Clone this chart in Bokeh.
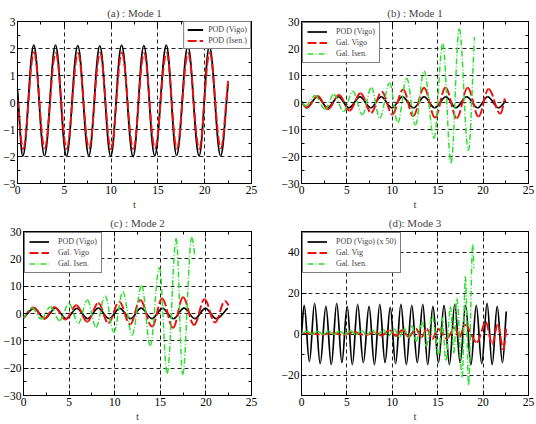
import numpy as np
from bokeh.plotting import figure
from bokeh.models import (ColumnDataSource, Legend, LegendItem, LinearAxis,
                          SingleIntervalTicker)
from bokeh.layouts import column, row
from bokeh.embed import file_html
from bokeh.resources import INLINE

# ---- time series, given by their turning points (start, extrema, end) ----
# Mode 1, POD (Vigo)
pod_vigo_m1_t = [0, 0.57, 1.74, 2.88, 4.06, 5.23, 6.44, 7.62, 8.79, 9.96, 11.12,
                 12.35, 13.5, 14.66, 15.9, 17.0, 18.2, 19.4, 20.5, 21.7, 22.5]
pod_vigo_m1_v = [0.45, -1.98, 2.12, -1.97, 2.12, -1.98, 2.11, -1.97, 2.1, -1.99, 2.12,
                 -2.0, 2.11, -1.97, 2.12, -1.96, 2.1, -1.98, 2.09, -1.98, 0.7]
# Mode 1, POD (Isen.)
pod_isen_m1_t = [0, 0.6, 1.76, 2.9, 4.08, 5.25, 6.46, 7.64, 8.81, 9.98, 11.14,
                 12.37, 13.52, 14.68, 15.92, 17.02, 18.22, 19.42, 20.52, 21.72, 22.5]
pod_isen_m1_v = [0.1, -1.72, 1.86, -1.7, 1.84, -1.72, 1.83, -1.7, 1.84, -1.73, 1.85,
                 -1.72, 1.83, -1.7, 1.84, -1.71, 1.83, -1.72, 1.85, -1.7, 0.8]
# Mode 1, Galerkin (Vigo)
gal_vigo_m1_t = [0, 0.58, 1.8, 2.9, 4.15, 5.28, 6.5, 7.67, 8.85, 10.0, 11.2,
                 12.3, 13.5, 14.7, 15.86, 17.1, 18.3, 19.5, 20.6, 21.9, 22.4]
gal_vigo_m1_v = [0, -1.8, 2.4, -2.5, 2.8, -3.0, 3.4, -3.8, 4.0, -4.4, 4.8,
                 -5.0, 5.5, -5.6, 5.6, -5.8, 5.5, -5.2, 5.0, -4.2, 1.5]
# Mode 1, Galerkin (Isen.)
gal_isen_m1_t = [0, 0.45, 1.5, 2.6, 3.56, 4.64, 5.65, 6.7, 7.7, 8.62, 9.7,
                 10.6, 11.58, 12.55, 13.5, 14.6, 15.56, 16.47, 17.37, 18.38, 19.05]
gal_isen_m1_v = [0.3, -1.3, 2.6, -2.5, 3.0, -3.3, 4.2, -4.5, 5.5, -5.8, 7.2,
                 -7.5, 9.0, -8.3, 11.7, -13.2, 21.8, -22.5, 27.3, -17.8, 24.3]

# Mode 2
pod_vigo_m2_t = [0, 1.15, 2.33, 3.5, 4.68, 5.85, 7.03, 8.2, 9.38, 10.55,
                 11.73, 12.9, 14.08, 15.25, 16.43, 17.6, 18.78, 19.95, 21.13, 22.4]
pod_vigo_m2_v = [-1.7, 1.9, -1.85, 1.95, -1.85, 1.9, -1.9, 1.95, -1.85, 1.9,
                 -1.9, 1.95, -1.85, 1.9, -1.9, 1.95, -1.85, 1.9, -1.9, 2.0]
gal_vigo_m2_t = [0, 1.1, 2.3, 3.4, 4.6, 5.8, 7.0, 8.2, 9.3, 10.5, 11.7,
                 12.8, 14.1, 15.2, 16.4, 17.5, 18.7, 19.85, 21.0, 22.1, 22.5]
gal_vigo_m2_v = [-1.6, 2.2, -1.9, 2.4, -2.2, 3.0, -3.0, 3.8, -3.5, 4.3, -4.0,
                 4.9, -4.8, 5.5, -5.2, 5.9, -4.2, 5.2, -3.3, 4.6, 3.0]
gal_isen_m2_t = [0, 0.95, 1.95, 2.95, 3.95, 5.0, 6.0, 7.0, 7.95, 8.95, 9.9,
                 10.9, 11.9, 12.95, 13.9, 14.9, 15.75, 16.75, 17.45, 18.45, 18.8]
gal_isen_m2_v = [-1.6, 2.0, -2.0, 2.5, -2.6, 3.6, -3.6, 4.9, -5.0, 6.4, -6.8,
                 7.9, -7.9, 10.2, -11.8, 16.8, -22.0, 27.4, -22.3, 27.8, 21.0]

# Mode 3 (POD scaled by 50)
pod_vigo_m3_t = [0, 0.3, 0.87, 1.44, 2.06, 2.69, 3.28, 3.88, 4.45, 5.03,
                 5.6, 6.18, 6.81, 7.44, 8.03, 8.62, 9.2, 9.77, 10.36, 10.95,
                 11.55, 12.14, 12.75, 13.36, 13.9, 14.47, 15.08, 15.7, 16.29, 16.88,
                 17.47, 18.07, 18.66, 19.25, 19.85, 20.44, 21.0, 21.55, 22.13, 22.55]
pod_vigo_m3_v = [0, 14, -13.5, 15, -14.5, 13.5, -15, 15, -14, 13.5,
                 -15, 14.5, -14, 13.5, -15, 14.5, -14, 13, -14.5, 14.5,
                 -15, 14, -14, 14.5, -15, 13.5, -14, 14, -15, 14.5,
                 -14, 14, -15, 14, -14.5, 15, -15, 13.5, -14, 11]
gal_vigo_m3_t = [0, 1.0, 2.2, 3.4, 4.6, 5.8, 7.0, 8.2, 8.8, 9.7, 10.4, 11.1,
                 11.8, 12.6, 13.2, 13.8, 14.4, 15.0, 16.0, 16.9, 17.4, 18.0,
                 19.3, 20.3, 21.0, 21.6, 22.25, 22.55]
gal_vigo_m3_v = [0, 0.4, -0.3, 0.5, -0.4, 0.8, -0.5, 1.0, -0.8, 1.8, -1.0, 2.0,
                 -1.5, 2.6, -1.6, 2.4, -2.5, 2.6, -2.2, 3.0, -1.5, 4.5,
                 -4.0, 5.7, -5.0, 4.5, -7.5, 3.0]
gal_isen_m3_t = [0, 0.6, 1.2, 1.8, 2.4, 3.0, 3.6, 4.2, 4.8, 5.4, 6.0, 6.6, 7.2,
                 7.8, 8.4, 9.0, 9.6, 10.2, 10.8, 11.3, 11.75, 12.2, 12.6, 13.3,
                 13.75, 14.4, 15.1, 15.5, 15.9, 16.4, 16.8, 17.1, 17.7, 18.05,
                 18.4, 18.86, 18.98]
gal_isen_m3_v = [0.3, 1.2, -0.1, 1.3, -0.2, 1.4, -0.2, 1.5, -0.3, 1.6, -0.3, 1.8, -0.5,
                 2.0, -0.6, 2.2, -1.0, 2.5, -1.5, 3.0, -2.0, 4.0, -3.5, 6.0,
                 -6.0, 8.6, -10.0, 8.0, -13.0, 13.5, -9.3, 17.5, -21.0, 28.0,
                 -24.7, 43.6, 32.0]

FONT = "Liberation Serif"
BLACK, RED, GREEN = "#000000", "#ee1111", "#2ee02e"
K = 0.3634  # cubic Bezier handle fraction for a half-wave between turning points


def wave_source(t, v):
    """Smooth path through turning points: horizontal tangents at extrema,
    chord tangents at the two free ends."""
    t = np.asarray(t, float)
    v = np.asarray(v, float)
    dt = np.diff(t)
    cy0 = v[:-1].copy()
    cy1 = v[1:].copy()
    cy0[0] = v[0] + K * (v[1] - v[0])
    cy1[-1] = v[-1] - K * (v[-1] - v[-2])
    return ColumnDataSource(dict(
        x0=t[:-1], y0=v[:-1], x1=t[1:], y1=v[1:],
        cx0=t[:-1] + K * dt, cy0=cy0, cx1=t[1:] - K * dt, cy1=cy1))


def draw(p, t, v, color, width, dash="solid"):
    return p.bezier(x0="x0", y0="y0", x1="x1", y1="y1", cx0="cx0", cy0="cy0",
                    cx1="cx1", cy1="cy1", source=wave_source(t, v),
                    line_color=color, line_width=width, line_dash=dash)


def style_axis(ax, show_labels=True):
    ax.axis_line_color = None
    ax.major_tick_in = 5
    ax.major_tick_out = 0
    ax.minor_tick_in = 3
    ax.minor_tick_out = 0
    ax.major_tick_line_color = "black"
    ax.minor_tick_line_color = "black"
    ax.major_label_text_font = FONT
    ax.major_label_text_font_size = "11.5px"
    if show_labels:
        ax.major_label_text_color = "black"
        ax.major_label_standoff = 2
    else:
        # tick marks only on the mirrored sides
        ax.major_label_text_color = None
        ax.major_label_standoff = 0


def make_panel(title, y_lo, y_hi, y_step, width, height, bl, br, bt, bb):
    p = figure(width=width, height=height, x_range=(0, 25), y_range=(y_lo, y_hi),
               output_backend="svg", toolbar_location=None,
               min_border_left=bl, min_border_right=br,
               min_border_top=bt, min_border_bottom=bb)
    p.title.text = title
    p.title.text_font = FONT
    p.title.text_font_size = "11px"
    p.title.text_font_style = "normal"
    p.title.align = "center"
    p.title.vertical_align = "top"
    p.title.standoff = 2
    p.outline_line_color = "black"
    p.outline_line_width = 1
    p.background_fill_color = "white"
    p.border_fill_color = "white"

    xt = SingleIntervalTicker(interval=5, num_minor_ticks=2)
    yt = SingleIntervalTicker(interval=y_step, num_minor_ticks=2)
    p.xaxis.ticker = xt
    p.yaxis.ticker = yt
    style_axis(p.xaxis[0])
    style_axis(p.yaxis[0])
    p.xaxis.axis_label = "t"
    p.xaxis.axis_label_text_font = FONT
    p.xaxis.axis_label_text_font_size = "11px"
    p.xaxis.axis_label_text_font_style = "normal"
    p.xaxis.axis_label_standoff = 1

    top = LinearAxis(ticker=xt)
    right = LinearAxis(ticker=yt)
    style_axis(top, False)
    style_axis(right, False)
    p.add_layout(top, "above")
    p.add_layout(right, "right")

    p.xgrid.ticker = xt
    p.ygrid.ticker = yt
    for g in (p.xgrid[0], p.ygrid[0]):
        g.grid_line_color = "#222222"
        g.grid_line_dash = "4 3"
        g.grid_line_width = 1
    return p


def add_legend(p, items, location, glyph_width=20, standoff=9, padding=4):
    leg = Legend(items=[LegendItem(label=lab, renderers=[r]) for lab, r in items],
                 location=location, margin=0 if location == "top_right" else 1,
                 border_line_color="black", border_line_width=1,
                 background_fill_color="white", background_fill_alpha=1,
                 label_text_font=FONT, label_text_font_size="8px",
                 glyph_width=glyph_width, glyph_height=9, label_height=9,
                 spacing=2, padding=padding, label_standoff=standoff)
    p.add_layout(leg)


# (a) Mode 1, POD comparison
pa = make_panel("(a) : Mode 1", -3, 3, 1, 278, 212, 17, 27, 21, 28)
ra1 = draw(pa, pod_vigo_m1_t, pod_vigo_m1_v, BLACK, 1.8)
ra2 = draw(pa, pod_isen_m1_t, pod_isen_m1_v, RED, 1.9, "9 3")
add_legend(pa, [("POD (Vigo)", ra1), ("POD (Isen.)", ra2)], "top_right",
           glyph_width=16, standoff=5, padding=3)

# (b) Mode 1, Galerkin models
pb = make_panel("(b) : Mode 1", -30, 30, 10, 258, 212, 18, 8, 21, 28)
rb1 = draw(pb, pod_vigo_m1_t, pod_vigo_m1_v, BLACK, 1.7)
rb2 = draw(pb, gal_vigo_m1_t, gal_vigo_m1_v, RED, 2, "9 3")
rb3 = draw(pb, gal_isen_m1_t, gal_isen_m1_v, GREEN, 1.5, "6 2 1 2")
add_legend(pb, [("POD (Vigo)", rb1), ("Gal. Vigo", rb2), ("Gal. Isen.", rb3)], "top_left")

# (c) Mode 2
pc = make_panel("(c) : Mode 2", -30, 30, 10, 278, 212, 17, 27, 19, 29)
rc1 = draw(pc, pod_vigo_m2_t, pod_vigo_m2_v, BLACK, 1.7)
rc2 = draw(pc, gal_vigo_m2_t, gal_vigo_m2_v, RED, 2, "9 3")
rc3 = draw(pc, gal_isen_m2_t, gal_isen_m2_v, GREEN, 1.5, "6 2 1 2")
add_legend(pc, [("POD (Vigo)", rc1), ("Gal. Vigo", rc2), ("Gal. Isen.", rc3)], "top_left")

# (d) Mode 3
pd_ = make_panel("(d): Mode 3", -30, 50, 20, 258, 212, 18, 8, 17, 29)
rd1 = draw(pd_, pod_vigo_m3_t, pod_vigo_m3_v, BLACK, 1.7)
rd2 = draw(pd_, gal_vigo_m3_t, gal_vigo_m3_v, RED, 2, "9 3")
rd3 = draw(pd_, gal_isen_m3_t, gal_isen_m3_v, GREEN, 1.5, "6 2 1 2")
add_legend(pd_, [("POD (Vigo) (x 50)", rd1), ("Gal. Vig", rd2), ("Gal. Isen.", rd3)], "top_left")

layout = column(row(pa, pb), row(pc, pd_))
open("out.html", "w").write(file_html(layout, INLINE))
